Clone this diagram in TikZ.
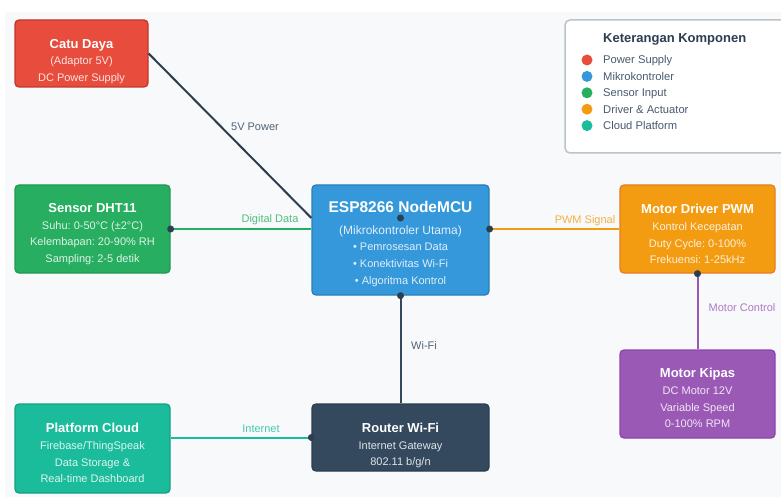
\documentclass[tikz,border=0pt]{standalone}
\usepackage{fontspec}
\setmainfont{Liberation Sans}
\frenchspacing
\definecolor{pwrred}{HTML}{E74C3C}
\definecolor{pwrredd}{HTML}{C0392B}
\definecolor{sensgreen}{HTML}{27AE60}
\definecolor{sensgreend}{HTML}{229954}
\definecolor{mcublue}{HTML}{3498DB}
\definecolor{mcublued}{HTML}{2980B9}
\definecolor{drvorange}{HTML}{F39C12}
\definecolor{drvoranged}{HTML}{E67E22}
\definecolor{motpurple}{HTML}{9B59B6}
\definecolor{motpurpled}{HTML}{8E44AD}
\definecolor{cldteal}{HTML}{1ABC9C}
\definecolor{cldteald}{HTML}{16A085}
\definecolor{rtrdark}{HTML}{34495E}
\definecolor{rtrdarkd}{HTML}{2C3E50}
\definecolor{bgcol}{HTML}{F7F9FA}
\definecolor{legline}{HTML}{BDC3C7}
\newcommand{\boxtitle}[1]{{\bfseries\fontsize{13}{16.7}\selectfont\color{white}#1}}

\begin{document}
\begin{tikzpicture}[x=1pt,y=-1pt]
\tikzstyle{comp}=[rectangle,rounded corners=4pt,line width=1.3pt,inner sep=0pt]
\tikzstyle{txt}=[align=center,inner sep=0pt,font=\fontsize{11}{16.7}\selectfont]
\tikzstyle{wire}=[line width=2pt]
\tikzstyle{lbl}=[inner sep=0pt,font=\fontsize{11}{12}\selectfont]
\tikzstyle{item}=[anchor=base west,inner sep=0pt,text=rtrdark!90!white,font=\fontsize{11.2}{13}\selectfont]
\clip (0,0) rectangle (781,497);
\fill[bgcol] (5,12) rectangle (781,497);

\node[comp,fill=pwrred,draw=pwrredd,minimum width=133pt,minimum height=67pt] (catu) at (81.5,53.5) {};
\node[txt,text=white!85!pwrred] (catu-t) at ([yshift=-8pt]catu.center) {\boxtitle{Catu Daya}\\(Adaptor 5V)\\DC Power Supply};

\node[comp,fill=sensgreen,draw=sensgreend,minimum width=155pt,minimum height=88pt] (sensor) at (92.5,229) {};
\node[txt,text=white!85!sensgreen] (sensor-t) at ([yshift=-5pt]sensor.center) {\boxtitle{Sensor DHT11}\\Suhu: 0-50°C (±2°C)\\Kelembapan: 20-90\% RH\\Sampling: 2-5 detik};

\node[comp,fill=mcublue,draw=mcublued,minimum width=177pt,minimum height=110pt] (esp) at (400.5,240) {};
\node[txt,text=white!85!mcublue] (esp-t) at ([yshift=-4pt]esp.center) {{\bfseries\fontsize{15.5}{16.7}\selectfont\color{white}ESP8266 NodeMCU}\\[5pt]{\fontsize{12}{16.7}\selectfont(Mikrokontroler Utama)}\\• Pemrosesan Data\\• Konektivitas Wi-Fi\\• Algoritma Kontrol};

\node[comp,fill=drvorange,draw=drvoranged,minimum width=155pt,minimum height=88pt] (driver) at (697.5,229) {};
\node[txt,text=white!85!drvorange] (driver-t) at ([yshift=-5pt]driver.center) {\boxtitle{Motor Driver PWM}\\Kontrol Kecepatan\\Duty Cycle: 0-100\%\\Frekuensi: 1-25kHz};

\node[comp,fill=motpurple,draw=motpurpled,minimum width=155pt,minimum height=88pt] (kipas) at (697.5,394) {};
\node[txt,text=white!85!motpurple] (kipas-t) at ([yshift=-4pt]kipas.center) {\boxtitle{Motor Kipas}\\DC Motor 12V\\Variable Speed\\0-100\% RPM};

\node[comp,fill=cldteal,draw=cldteald,minimum width=155pt,minimum height=89pt] (cloud) at (92.5,448.5) {};
\node[txt,text=white!85!cldteal] (cloud-t) at ([yshift=-4.5pt]cloud.center) {\boxtitle{Platform Cloud}\\Firebase/ThingSpeak\\Data Storage \&\\Real-time Dashboard};

\node[comp,fill=rtrdark,draw=rtrdarkd,minimum width=177pt,minimum height=67pt] (router) at (400.5,437.5) {};
\node[txt,text=white!85!rtrdark] (router-t) at ([yshift=-8pt]router.center) {\boxtitle{Router Wi-Fi}\\Internet Gateway\\802.11 b/g/n};

\coordinate (pwr) at ([yshift=22pt]esp.west);
\draw[wire,rtrdarkd] (catu.east) -- (pwr);
\draw[wire,sensgreen] (sensor.east) -- (sensor.east -| esp.west);
\draw[wire,drvorange] (driver.west -| esp.east) -- (driver.west);
\draw[wire,motpurple] (driver.south) -- (kipas.north);
\draw[wire,rtrdark] (esp.south) -- (router.north);
\draw[wire,cldteal] (router.west -| cloud.east) -- (router.west);

\fill[rtrdarkd] (sensor.east) circle (3.5pt);
\fill[rtrdarkd] ([yshift=22pt]esp.center) circle (3.5pt);
\fill[rtrdarkd] (driver.west -| esp.east) circle (3.5pt);
\fill[rtrdarkd] (esp.south) circle (3.5pt);
\fill[rtrdarkd] (driver.south) circle (3.5pt);
\fill[rtrdarkd] (router.west) circle (3.5pt);

\node[lbl,text=rtrdark!85!white] (l-pwr) at (255,127) {5V Power};
\node[lbl,text=sensgreen!80!white] (l-data) at (270,220) {Digital Data};
\node[lbl,text=drvorange!80!white] (l-pwm) at (585,221) {PWM Signal};
\node[lbl,text=motpurple!80!white] (l-mot) at (742,308) {Motor Control};
\node[lbl,text=rtrdark!85!white] (l-wifi) at (424,346) {Wi-Fi};
\node[lbl,text=cldteal!80!white] (l-net) at (261,429) {Internet};

\node[rectangle,rounded corners=5pt,draw=legline,line width=1.5pt,fill=white,minimum width=240pt,minimum height=133pt] (legend) at (685,86.5) {};
\node[anchor=base west,inner sep=0pt,text=rtrdarkd,font=\bfseries\fontsize{13}{15}\selectfont] (leg-t) at (603,42.7) {Keterangan Komponen};
\fill[pwrred] (587,60) circle (5.5pt);
\node[item] (leg-1) at (603,64) {Power Supply};
\fill[mcublue] (587,76.4) circle (5.5pt);
\node[item] (leg-2) at (603,80.4) {Mikrokontroler};
\fill[sensgreen] (587,92.8) circle (5.5pt);
\node[item] (leg-3) at (603,96.8) {Sensor Input};
\fill[drvorange] (587,109.2) circle (5.5pt);
\node[item] (leg-4) at (603,113.2) {Driver \& Actuator};
\fill[cldteal] (587,125.6) circle (5.5pt);
\node[item] (leg-5) at (603,129.6) {Cloud Platform};
\end{tikzpicture}
\end{document}
